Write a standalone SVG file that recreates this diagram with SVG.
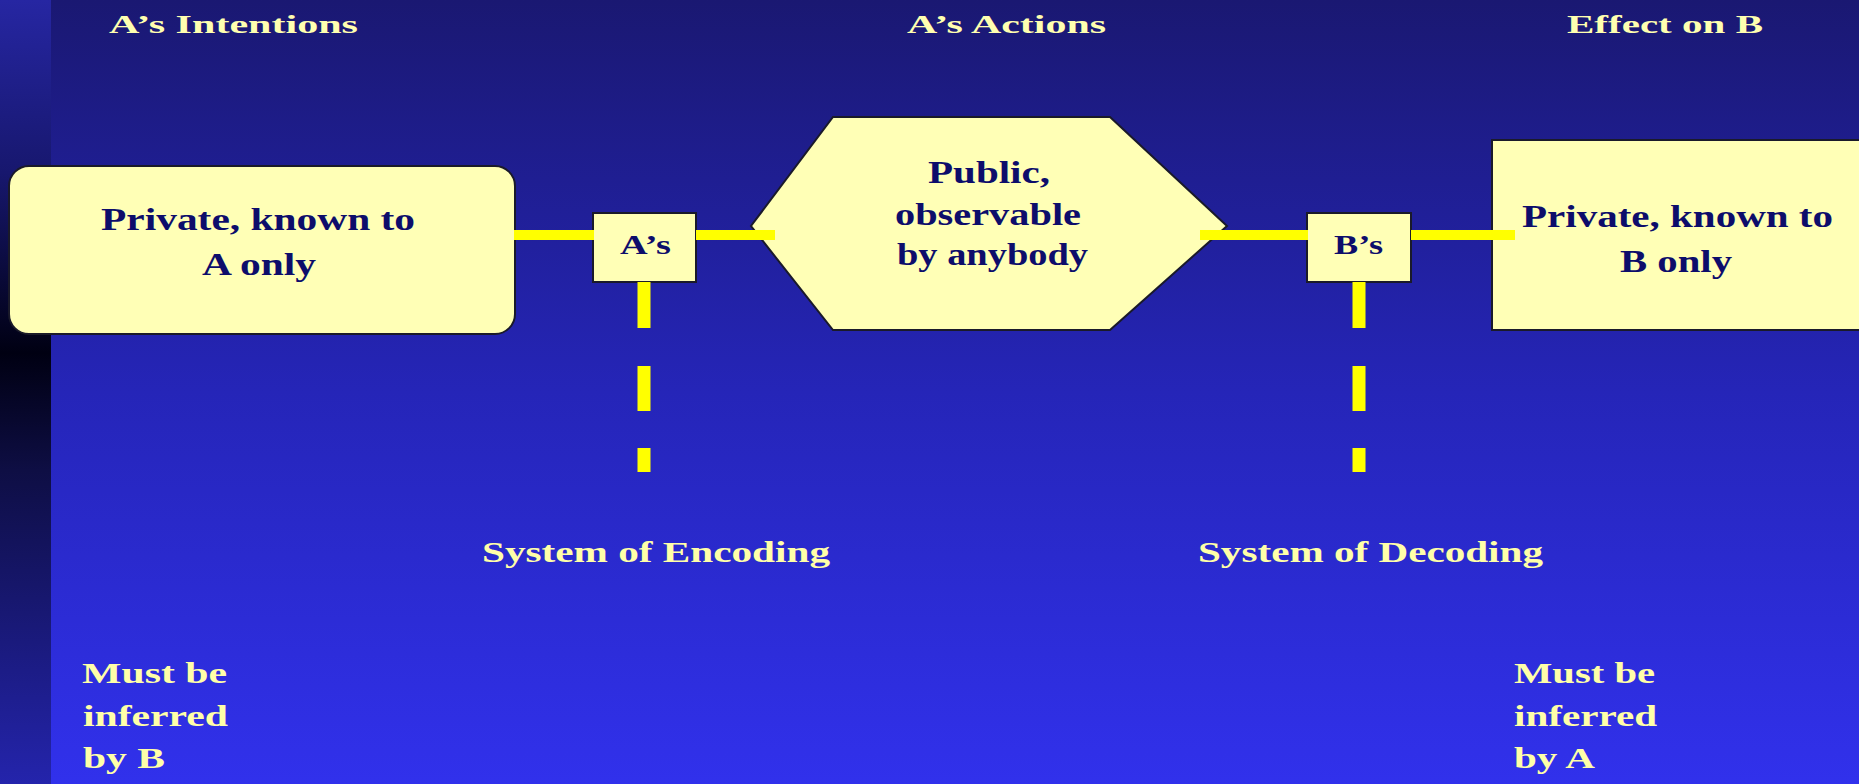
<svg xmlns="http://www.w3.org/2000/svg" width="1859" height="784" viewBox="0 0 1859 784">
  <defs>
    <linearGradient id="bg" x1="0" y1="0" x2="0" y2="1">
      <stop offset="0" stop-color="#1a1872"/>
      <stop offset="0.5" stop-color="#2525b8"/>
      <stop offset="1" stop-color="#3131ec"/>
    </linearGradient>
    <linearGradient id="strip" x1="0" y1="0" x2="0" y2="1">
      <stop offset="0" stop-color="#2626a2"/>
      <stop offset="0.22" stop-color="#17176e"/>
      <stop offset="0.45" stop-color="#000012"/>
      <stop offset="0.6" stop-color="#0e0e44"/>
      <stop offset="1" stop-color="#2424ac"/>
    </linearGradient>
    <style>
      .box { fill: #ffffb6; stroke: #1a1a2a; stroke-width: 2; }
      .t { font-family: "Liberation Serif", "Times New Roman", serif; font-weight: bold; }
      .dark { fill: #0d0d6b; font-size: 32px; }
      .small { fill: #0d0d6b; font-size: 28px; }
      .title { fill: #ffffb0; font-size: 26px; }
      .lbl { fill: #ffffa8; font-size: 30px; }
      .conn { stroke: #ffff00; stroke-width: 10; fill: none; }
      .dash { stroke: #ffff00; stroke-width: 13; fill: none; }
    </style>
  </defs>

  <rect x="0" y="0" width="1859" height="784" fill="url(#bg)"/>
  <rect x="0" y="0" width="51" height="784" fill="url(#strip)"/>

  <g id="titles">
    <text class="t title" x="109" y="33" textLength="249" lengthAdjust="spacingAndGlyphs">A’s Intentions</text>
    <text class="t title" x="907" y="33" textLength="199" lengthAdjust="spacingAndGlyphs">A’s Actions</text>
    <text class="t title" x="1567" y="33" textLength="196" lengthAdjust="spacingAndGlyphs">Effect on B</text>
  </g>

  <g id="intentions">
    <rect class="box" x="9" y="166" width="506" height="168" rx="20" ry="20"/>
    <text class="t dark" x="101" y="230" textLength="314" lengthAdjust="spacingAndGlyphs">Private, known to</text>
    <text class="t dark" x="202" y="275" textLength="114" lengthAdjust="spacingAndGlyphs">A only</text>
  </g>

  <g id="a-encoding">
    <rect class="box" x="593" y="213" width="103" height="69"/>
    <text class="t small" x="620" y="254" textLength="51" lengthAdjust="spacingAndGlyphs">A’s</text>
  </g>

  <g id="actions">
    <polygon class="box" points="833,117 1110,117 1227,226 1110,330 833,330 751,226"/>
    <text class="t dark" x="928" y="183" textLength="122" lengthAdjust="spacingAndGlyphs">Public,</text>
    <text class="t dark" x="895" y="225" textLength="186" lengthAdjust="spacingAndGlyphs">observable</text>
    <text class="t dark" x="897" y="265" textLength="191" lengthAdjust="spacingAndGlyphs">by anybody</text>
  </g>

  <g id="b-decoding">
    <rect class="box" x="1307" y="213" width="104" height="69"/>
    <text class="t small" x="1334" y="254" textLength="49" lengthAdjust="spacingAndGlyphs">B’s</text>
  </g>

  <g id="effect">
    <path class="box" d="M1870,140 H1492 V330 H1870"/>
    <text class="t dark" x="1522" y="227" textLength="311" lengthAdjust="spacingAndGlyphs">Private, known to</text>
    <text class="t dark" x="1620" y="272" textLength="112" lengthAdjust="spacingAndGlyphs">B only</text>
  </g>

  <g id="connectors">
    <line class="conn" x1="514" y1="235" x2="594" y2="235"/>
    <line class="conn" x1="696" y1="235" x2="775" y2="235"/>
    <line class="conn" x1="1200" y1="235" x2="1308" y2="235"/>
    <line class="conn" x1="1411" y1="235" x2="1515" y2="235"/>
    <path class="dash" d="M644,282 V328 M644,366 V411 M644,448 V472"/>
    <path class="dash" d="M1359,282 V328 M1359,366 V411 M1359,448 V472"/>
  </g>

  <g id="labels">
    <text class="t lbl" x="482" y="562" textLength="348" lengthAdjust="spacingAndGlyphs">System of Encoding</text>
    <text class="t lbl" x="1198" y="562" textLength="345" lengthAdjust="spacingAndGlyphs">System of Decoding</text>
    <text class="t lbl" x="82" y="683" textLength="145" lengthAdjust="spacingAndGlyphs">Must be</text>
    <text class="t lbl" x="83" y="726" textLength="145" lengthAdjust="spacingAndGlyphs">inferred</text>
    <text class="t lbl" x="83" y="768" textLength="82" lengthAdjust="spacingAndGlyphs">by B</text>
    <text class="t lbl" x="1514" y="683" textLength="141" lengthAdjust="spacingAndGlyphs">Must be</text>
    <text class="t lbl" x="1514" y="726" textLength="143" lengthAdjust="spacingAndGlyphs">inferred</text>
    <text class="t lbl" x="1514" y="768" textLength="81" lengthAdjust="spacingAndGlyphs">by A</text>
  </g>
</svg>
